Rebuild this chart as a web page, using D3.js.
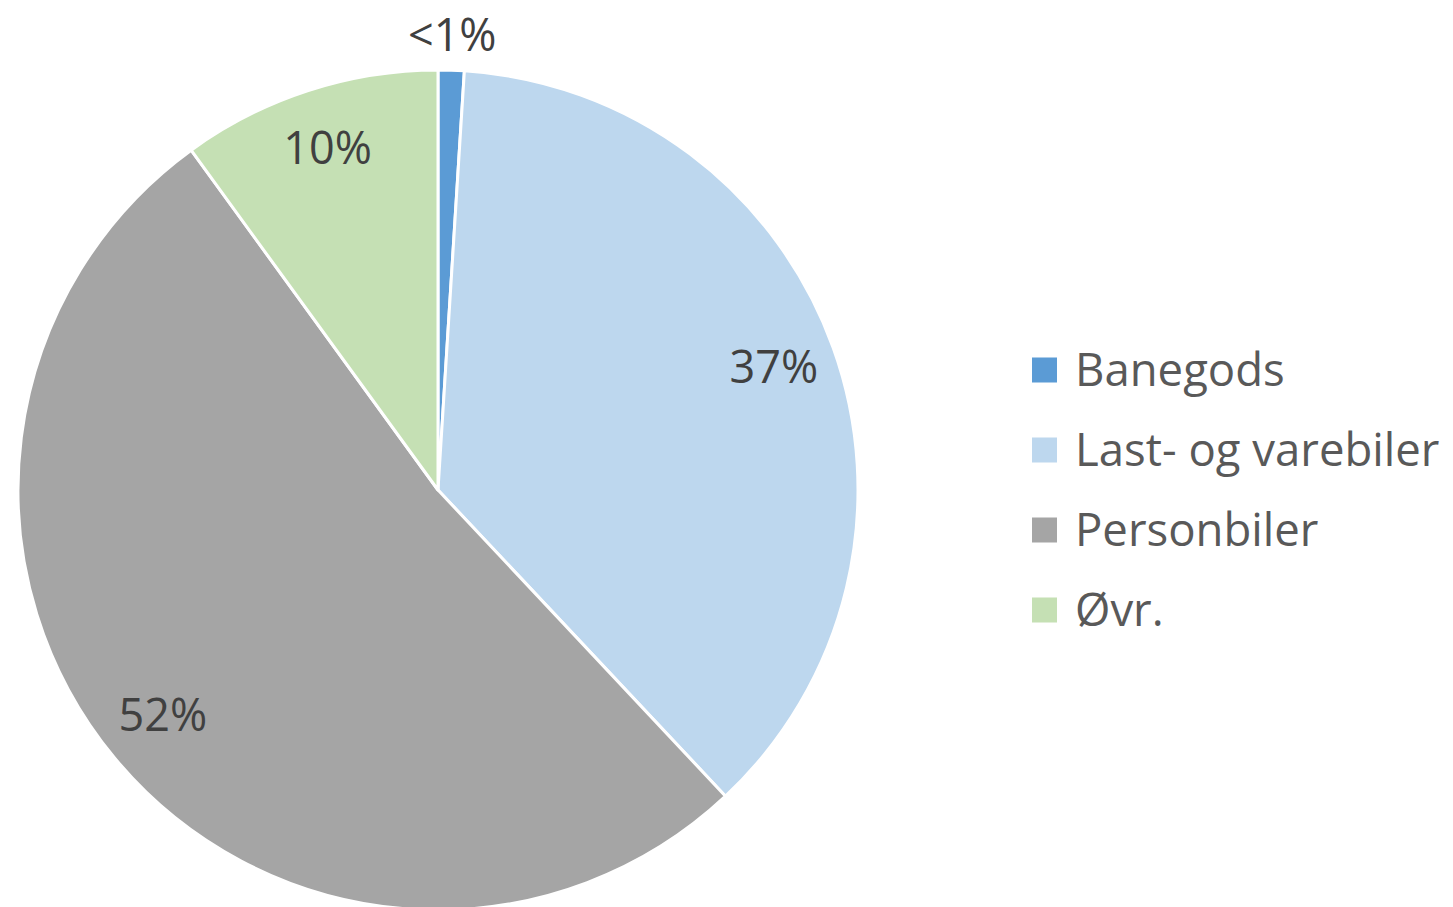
<!DOCTYPE html>
<html>
<head>
<meta charset="utf-8">
<script src="https://cdn.jsdelivr.net/npm/d3@7"></script>
<style>
  body { margin: 0; background: #fff; }
  svg { display: block; }
</style>
</head>
<body>
<div class="chart"></div>
<script>
// Data
var categories = ["Banegods", "Last- og varebiler", "Personbiler", "Øvr."];
var values = [1.0, 37.0, 52.0, 10.0];
var labels = ["<1%", "37%", "52%", "10%"];
var colors = ["#5B9BD5", "#BDD7EE", "#A5A5A5", "#C5E0B4"];

var width = 1453,
    height = 907,
    cx = 438,
    cy = 490,
    radius = 420;

var svg = d3.select(".chart")
    .append("svg")
    .attr("width", width)
    .attr("height", height)

var g = svg.append("g")
    .attr("transform", "translate(" + cx + "," + cy + ")")

var pie = d3.pie()
    .sort(null)
    .value((d) => { return d; })

var arcs = pie(values)

var arc = d3.arc()
    .innerRadius(0)
    .outerRadius(radius)

// Slices
g.selectAll("path")
    .data(arcs)
    .enter()
    .append("path")
    .attr("d", arc)
    .attr("fill", (d, i) => { return colors[i]; })
    .attr("stroke", "#fff")
    .attr("stroke-width", 3)
    .attr("stroke-linejoin", "round")

// Labels: small slices go outside, the rest inside
var inner = d3.arc().innerRadius(radius * 0.85).outerRadius(radius * 0.85)
var outer = d3.arc().innerRadius(radius + 33).outerRadius(radius + 33)

g.selectAll("text.lbl")
    .data(arcs)
    .enter()
    .append("text")
    .attr("class", "lbl")
    .attr("transform", (d) => {
        var small = (d.endAngle - d.startAngle) < 0.1
        var p = small ? outer.centroid(d) : inner.centroid(d)
        return "translate(" + p[0] + "," + p[1] + ")"
    })
    .attr("text-anchor", "middle")
    .attr("dy", "0.3em")
    .attr("font-family", "'Open Sans', sans-serif")
    .attr("font-size", 45)
    .attr("fill", "#404040")
    .text((d, i) => { return labels[i]; })

// Legend
var legend = svg.append("g")
    .attr("transform", "translate(1032,370)")

var item = legend.selectAll("g")
    .data(categories)
    .enter()
    .append("g")
    .attr("transform", (d, i) => { return "translate(0," + (i * 80) + ")"; })

item.append("rect")
    .attr("x", 0)
    .attr("y", -12.5)
    .attr("width", 25)
    .attr("height", 25)
    .attr("fill", (d, i) => { return colors[i]; })

item.append("text")
    .attr("x", 43)
    .attr("dy", "0.36em")
    .attr("font-family", "'Open Sans', sans-serif")
    .attr("font-size", 45.5)
    .attr("fill", "#595959")
    .text((d) => { return d; })
</script>
</body>
</html>
